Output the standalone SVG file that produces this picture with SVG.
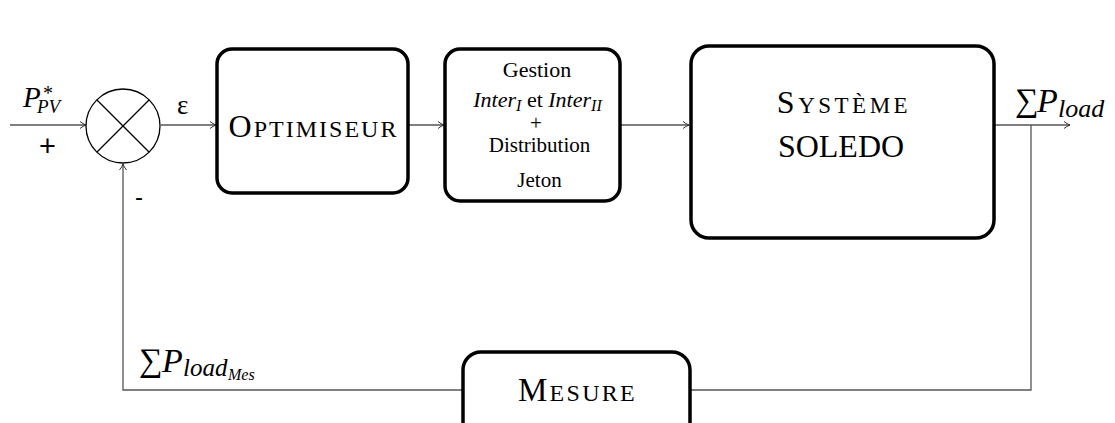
<svg xmlns="http://www.w3.org/2000/svg" width="1115" height="423" viewBox="0 0 1115 423">
<style>
.box{fill:#fff;stroke:#000;stroke-width:3.5}
.ln{fill:none;stroke:#555;stroke-width:1.3}
.t{font-family:'Liberation Serif','DejaVu Serif',serif;fill:#000}
.s{font-family:'Liberation Sans','DejaVu Sans',sans-serif;fill:#000}
.i{font-style:italic}
</style>
<defs>
<marker id="ar" markerWidth="10" markerHeight="10" refX="8" refY="5" orient="auto" markerUnits="userSpaceOnUse">
<path d="M2,1.5 Q5,4 8,5 Q5,6 2,8.5" fill="none" stroke="#333" stroke-width="1"/>
</marker>
</defs>
<g id="connectors">
<line class="ln" x1="10" y1="125" x2="86" y2="125" marker-end="url(#ar)"/>
<line class="ln" x1="161" y1="125" x2="216" y2="125" marker-end="url(#ar)"/>
<line class="ln" x1="409" y1="125" x2="444" y2="125" marker-end="url(#ar)"/>
<line class="ln" x1="620" y1="125" x2="689" y2="125" marker-end="url(#ar)"/>
<line class="ln" x1="994" y1="125" x2="1070" y2="125" marker-end="url(#ar)"/>
<polyline class="ln" points="1031,125 1031,390 690,390"/>
<polyline class="ln" points="463,390 123,390 123,164" marker-end="url(#ar)"/>
</g>
<g id="sum">
<circle cx="123" cy="126" r="37" fill="#fff" stroke="#000" stroke-width="1.3"/>
<line x1="97" y1="100" x2="149" y2="152" stroke="#000" stroke-width="1.3"/>
<line x1="149" y1="100" x2="97" y2="152" stroke="#000" stroke-width="1.3"/>
</g>
<g id="labels">
<text class="t i" x="23" y="107" font-size="29">P<tspan x="43" y="100" font-size="20" font-style="normal">*</tspan><tspan x="37" y="113" font-size="19">PV</tspan></text>
<text class="s" x="47.5" y="156" font-size="29" text-anchor="middle">+</text>
<text class="s" x="135" y="205" font-size="24">-</text>
<text class="t" x="177" y="114" font-size="27">ε</text>
<text class="t" x="1015" y="111" font-size="33">∑<tspan class="i" x="1037" y="112" font-size="34">P</tspan><tspan class="i" x="1058" y="117" font-size="26">load</tspan></text>
<text class="t" x="139" y="371" font-size="33">∑<tspan class="i" x="162" y="372" font-size="34">P</tspan><tspan class="i" x="183" y="376" font-size="25">load</tspan><tspan class="i" x="228" y="380" font-size="16">Mes</tspan></text>
</g>
<g id="optimiseur">
<rect class="box" x="217" y="49" width="191" height="144" rx="15"/>
<text class="t" x="313.5" y="137" font-size="32" text-anchor="middle" letter-spacing="2">O<tspan font-size="24">PTIMISEUR</tspan></text>
</g>
<g id="gestion">
<rect class="box" x="445" y="49" width="175" height="152" rx="15"/>
<text class="t" x="537" y="77" font-size="22" text-anchor="middle">Gestion</text>
<text class="t" x="537.5" y="107" font-size="22" text-anchor="middle"><tspan class="i">Inter</tspan><tspan class="i" font-size="16" dy="4">I</tspan><tspan dy="-4"> et </tspan><tspan class="i">Inter</tspan><tspan class="i" font-size="16" dy="4">II</tspan></text>
<text class="t" x="536" y="130" font-size="21" text-anchor="middle">+</text>
<text class="t" x="539.5" y="152" font-size="21" text-anchor="middle">Distribution</text>
<text class="t" x="539.5" y="187" font-size="21" text-anchor="middle">Jeton</text>
</g>
<g id="systeme">
<rect class="box" x="691" y="46" width="303" height="192" rx="18"/>
<text class="t" x="844" y="113" font-size="32" text-anchor="middle" letter-spacing="3.5">S<tspan font-size="23">YSTÈME</tspan></text>
<text class="t" x="841" y="157" font-size="32" text-anchor="middle">SOLEDO</text>
</g>
<g id="mesure">
<rect class="box" x="463" y="352" width="227" height="90" rx="18"/>
<text class="t" x="577.5" y="401" font-size="33" text-anchor="middle" letter-spacing="2.3">M<tspan font-size="24">ESURE</tspan></text>
</g>
</svg>
